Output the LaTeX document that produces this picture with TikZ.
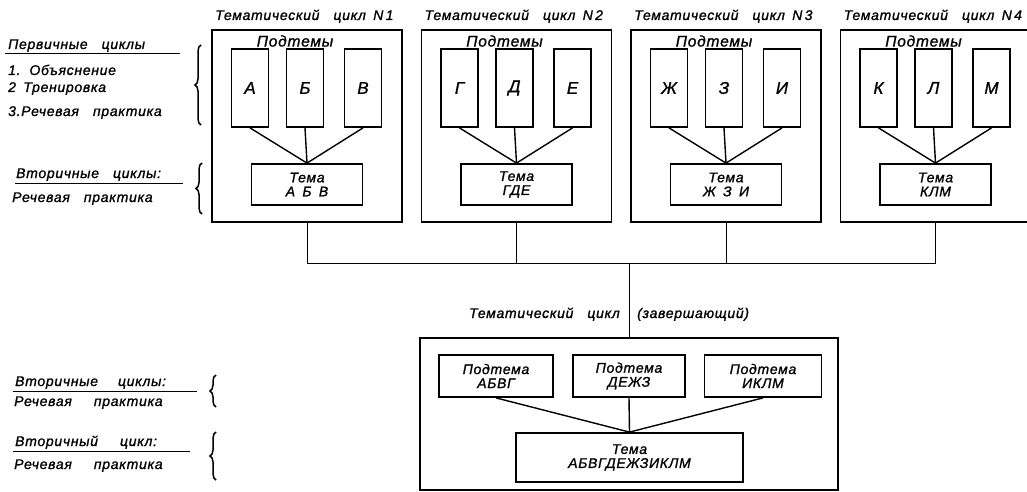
\documentclass[tikz,border=0pt]{standalone}
\usepackage{fontspec}
\setmainfont{Liberation Sans}
\newfontfamily\gost{Liberation Sans}[LetterSpace=5.0, WordSpace=1.6, FakeBold=1.2]
\usetikzlibrary{positioning}
\usetikzlibrary{calc}
\usetikzlibrary{decorations.pathreplacing}

\tikzset{
    cyclebox/.style={draw, line width=1.2pt, minimum width=190pt, minimum height=192pt, inner sep=0pt},
    subbox/.style={draw, line width=1.8pt, minimum width=37pt, minimum height=78pt, inner sep=0pt, font=\gost\itshape\fontsize{17}{17}\selectfont},
    themebox/.style={draw, line width=1.8pt, minimum width=111pt, minimum height=41pt, inner sep=0pt, align=center, font=\gost\itshape\fontsize{14}{14}\selectfont},
    lbl/.style={inner sep=0pt, font=\gost\itshape\fontsize{14}{14}\selectfont},
    link/.style={line width=1.4pt},
    bus/.style={line width=1pt},
    curly/.style={decorate, decoration={brace, amplitude=6pt}, line width=1.5pt},
}

\begin{document}
\begin{tikzpicture}[x=1pt, y=1pt]
    \useasboundingbox (0,0) rectangle (1027,-492);

    % left column: kinds of cycles
    \node[lbl, anchor=base west] (prim) at (8,-49) {Первичные\quad циклы};
    \draw[bus] (5,-54) -- (180,-54);
    \node[lbl, anchor=base west] (step1) at (8,-75) {1. Объяснение};
    \node[lbl, anchor=base west] (step2) at (8,-92) {2 Тренировка};
    \node[lbl, anchor=base west] (step3) at (8,-116) {3.Речевая\quad практика};
    \draw[curly] (201,-125) -- (201,-45);

    \node[lbl, anchor=base west] (sec) at (16,-178) {Вторичные\quad циклы:};
    \draw[bus] (15,-183) -- (183,-183);
    \node[lbl, anchor=base west] (secp) at (12,-202) {Речевая\quad практика};
    \draw[curly] (202,-214) -- (202,-163);

    \node[lbl, anchor=base west] (fsec) at (15,-386) {Вторичные\hspace{20pt}циклы:};
    \draw[bus] (13,-391) -- (197,-391);
    \node[lbl, anchor=base west] (fsecp) at (14,-406) {Речевая\hspace{22pt}практика};
    \draw[curly] (216,-407) -- (216,-375);

    \node[lbl, anchor=base west] (fone) at (15,-446) {Вторичный\hspace{22pt}цикл:};
    \draw[bus] (13,-451) -- (190,-451);
    \node[lbl, anchor=base west] (fonep) at (14,-469) {Речевая\hspace{22pt}практика};
    \draw[curly] (216,-480) -- (216,-432);

    % four thematic cycles
    \coordinate (hub) at (629,-263);
    \foreach \i/\cx/\a/\b/\c/\t in {1/307/А/Б/В/{А Б В}, 2/516.5/Г/Д/Е/{ГДЕ},
                                   3/726/Ж/З/И/{Ж З И}, 4/935.5/К/Л/М/{КЛМ}}{
        \node[cyclebox] (c\i) at (\cx,-126) {};
        \node[lbl, anchor=base west] (title\i) at (\cx-92,-20) {Тематический\quad цикл N\,\i};
        \node[lbl, font=\gost\itshape\fontsize{15.5}{15.5}\selectfont] (sub\i) at (\cx-12,-41) {Подтемы};
        \node[subbox] (s\i-1) at (\cx-57,-88) {\a};
        \node[subbox] (s\i-2) at (\cx-2,-88) {\b};
        \node[subbox] (s\i-3) at (\cx+56,-88) {\c};
        \node[themebox] (t\i) at (\cx,-184.5) {Тема\\\t};
        \foreach \j in {1,2,3}
            \draw[link] (s\i-\j.south) -- (t\i.north);
        \draw[bus] (c\i.south) |- (hub);
    }

    % closing cycle
    \node[lbl, anchor=base east] (fin-l) at (620,-318) {Тематический\quad цикл};
    \node[lbl, anchor=base west] (fin-r) at (637,-318) {(завершающий)};
    \node[cyclebox, minimum width=418pt, minimum height=152pt] (fin) at (629,-414) {};
    \draw[bus] (hub) -- (fin.north);
    \node[themebox, minimum width=114pt, minimum height=42pt] (fs1) at (496,-376) {Подтема\\АБВГ};
    \node[themebox, minimum width=112pt, minimum height=42pt] (fs2) at (629,-376) {Подтема\\ДЕЖЗ};
    \node[themebox, minimum width=117pt, minimum height=42pt] (fs3) at (763,-376) {Подтема\\ИКЛМ};
    \node[themebox, minimum width=227pt, minimum height=49pt] (ft) at (629.5,-457.5) {Тема\\АБВГДЕЖЗИКЛМ};
    \foreach \j in {1,2,3}
        \draw[link] (fs\j.south) -- (ft.north);
\end{tikzpicture}
\end{document}
